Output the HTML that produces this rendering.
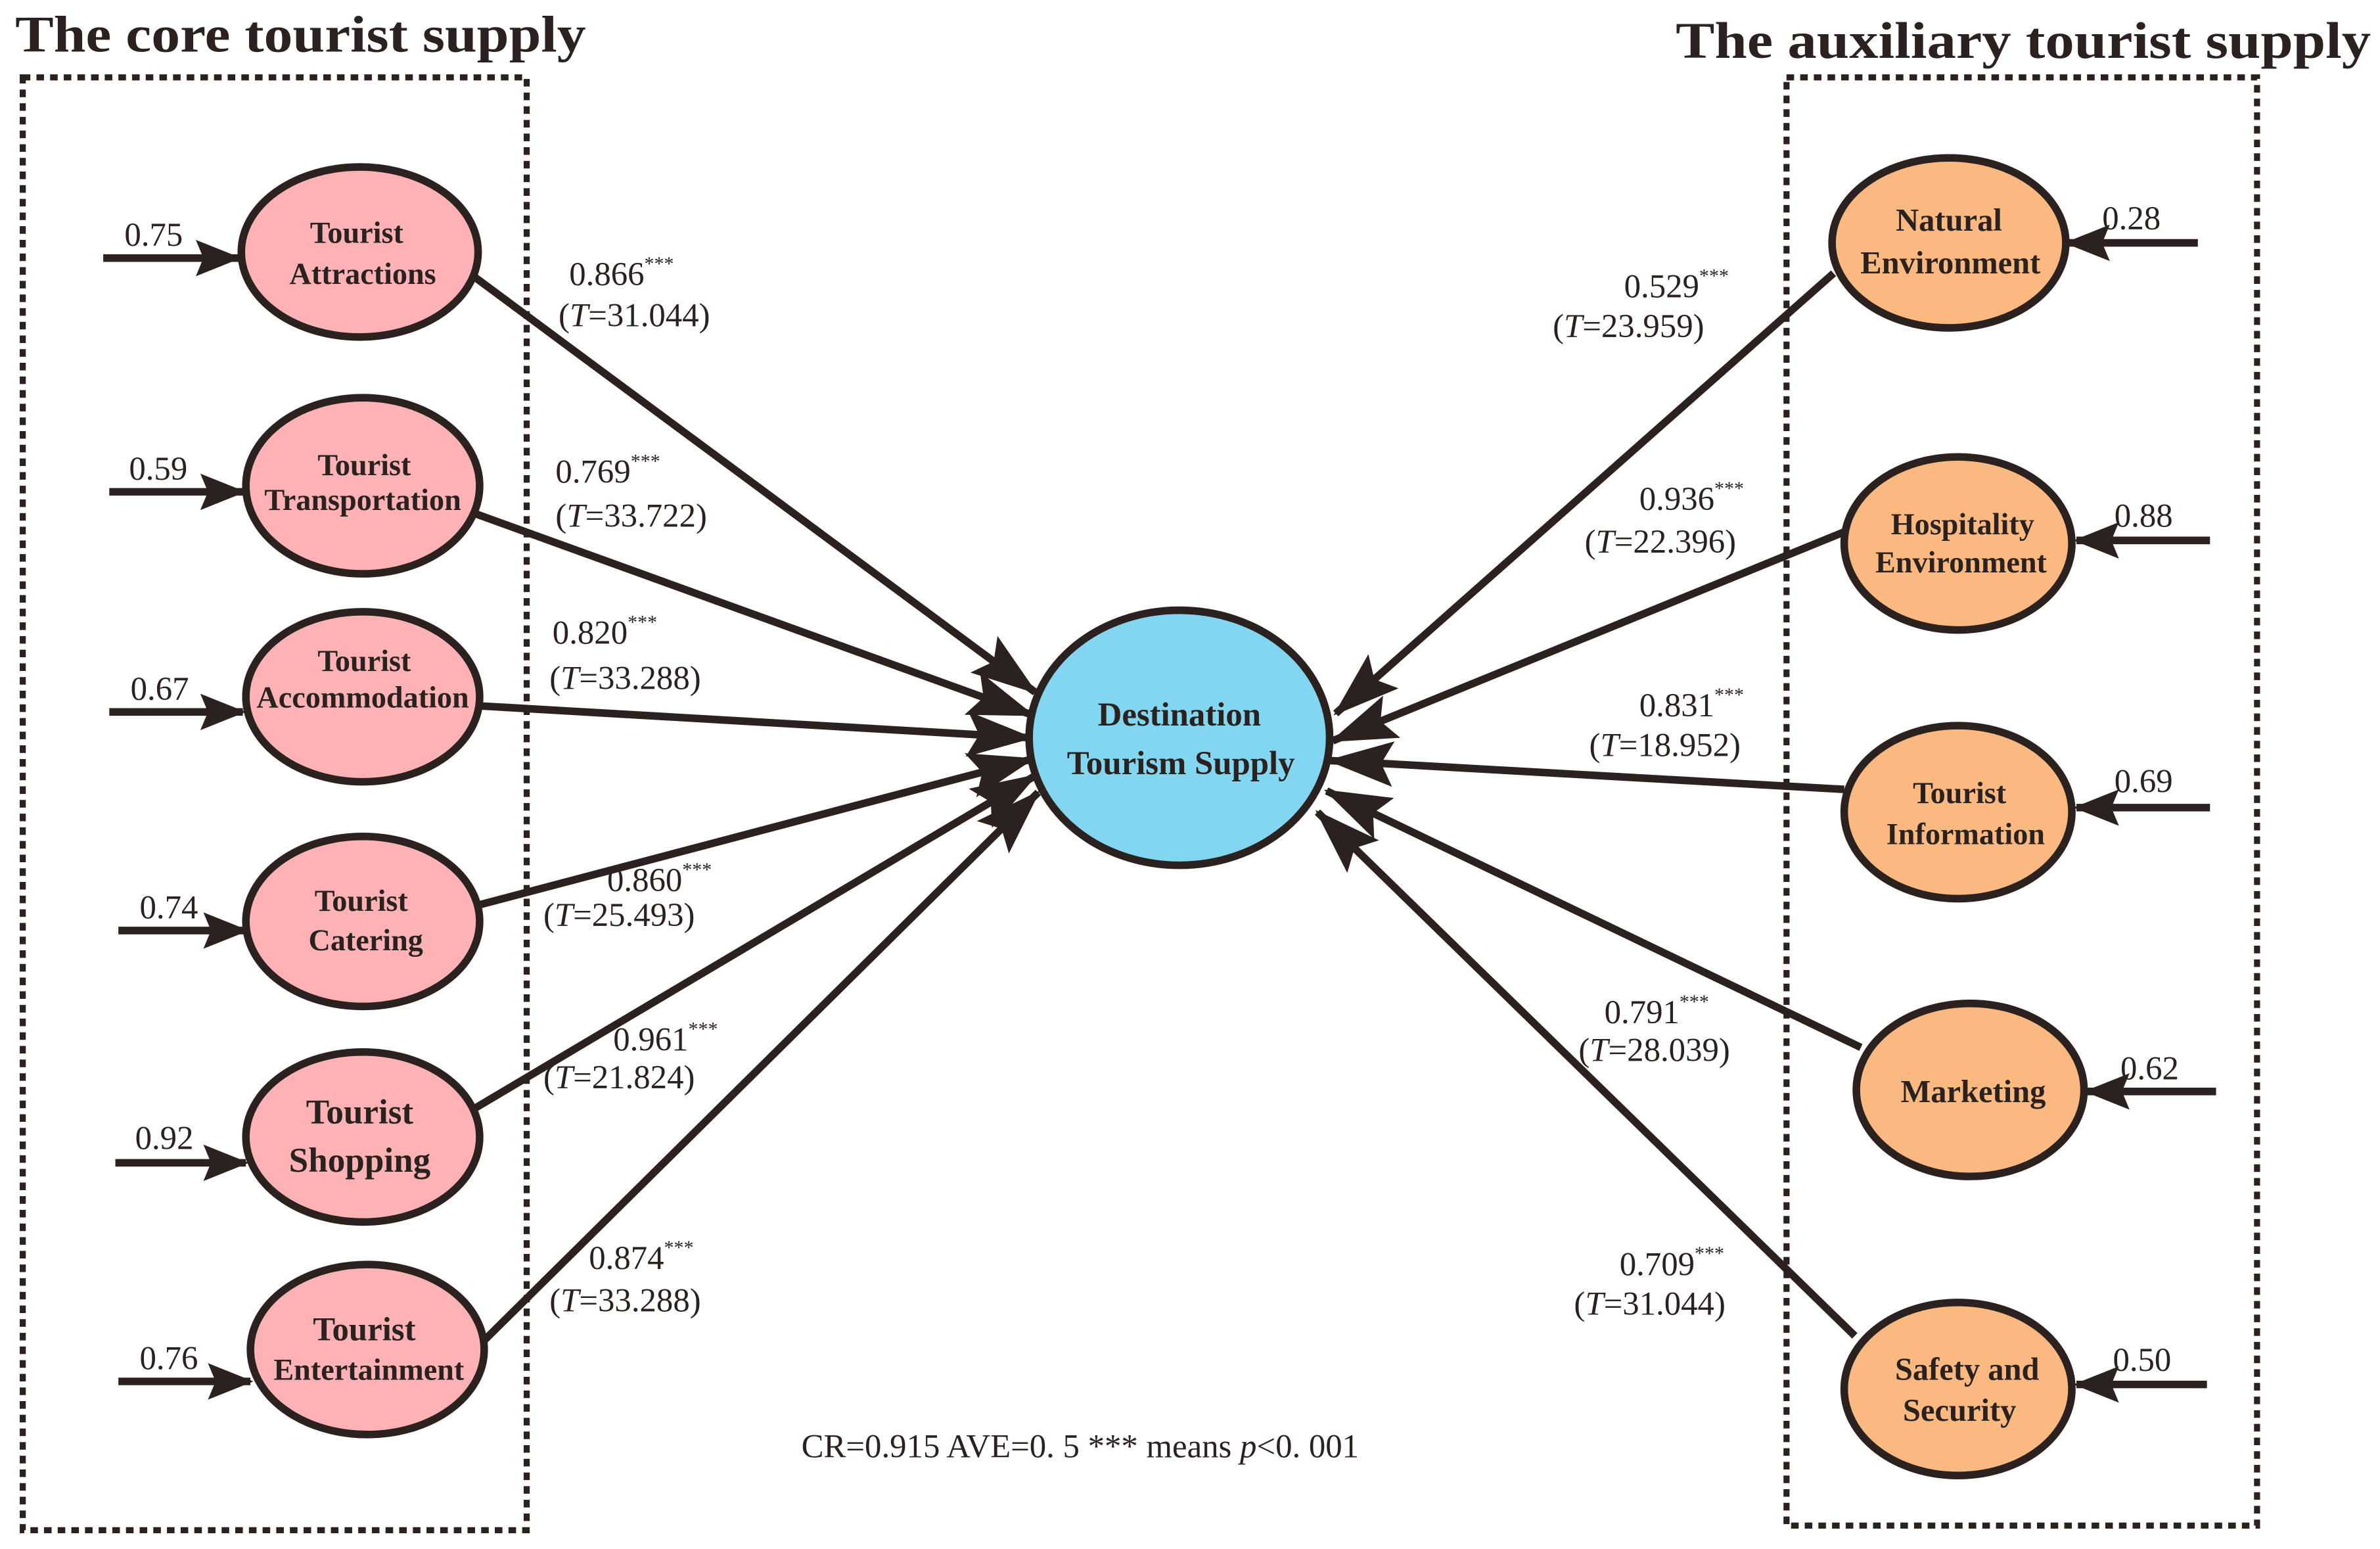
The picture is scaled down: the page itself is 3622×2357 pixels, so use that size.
<!DOCTYPE html>
<html><head><meta charset="utf-8"><style>
html,body{margin:0;padding:0;background:#fff;}
svg{display:block;}
text{font-family:"Liberation Serif",serif;fill:#2b2220;}
.h{font-size:34px;font-weight:bold;}
.n{font-size:20px;font-weight:bold;text-anchor:middle;}
.v{font-size:22px;}
.s{font-size:13px;}
</style></head><body>
<svg width="3622" height="2357" viewBox="0 0 1568 1020.4" preserveAspectRatio="none" xmlns="http://www.w3.org/2000/svg">
<defs>
<marker id="a" markerUnits="userSpaceOnUse" markerWidth="44" markerHeight="34" refX="42" refY="17" orient="auto">
<polygon points="0,2 44,17 0,32 8,17" fill="#2b2220"/>
</marker>
<marker id="b" markerUnits="userSpaceOnUse" markerWidth="30" markerHeight="26" refX="28" refY="13" orient="auto">
<polygon points="0,1 30,13 0,25 5,13" fill="#2b2220"/>
</marker>
</defs>
<rect width="1568" height="1020.4" fill="#fff"/>
<text class="h" x="10" y="34" textLength="376" lengthAdjust="spacingAndGlyphs">The core tourist supply</text>
<text class="h" x="1104" y="38" textLength="458" lengthAdjust="spacingAndGlyphs">The auxiliary tourist supply</text>
<rect x="15" y="51" width="332" height="957" fill="none" stroke="#2b2220" stroke-width="4" stroke-dasharray="5 4"/>
<rect x="1177" y="51" width="310" height="954" fill="none" stroke="#2b2220" stroke-width="4" stroke-dasharray="5 4"/>
<g stroke="#2b2220" stroke-width="5" fill="none">
<line x1="312" y1="182" x2="682" y2="456" marker-end="url(#a)"/>
<line x1="312" y1="338" x2="680" y2="471" marker-end="url(#a)"/>
<line x1="316" y1="465" x2="679" y2="486" marker-end="url(#a)"/>
<line x1="316" y1="596" x2="680" y2="500" marker-end="url(#a)"/>
<line x1="313" y1="730" x2="682" y2="511" marker-end="url(#a)"/>
<line x1="318" y1="884" x2="684" y2="522" marker-end="url(#a)"/>
<line x1="1208" y1="180" x2="880" y2="470" marker-end="url(#a)"/>
<line x1="1216" y1="350" x2="878" y2="488" marker-end="url(#a)"/>
<line x1="1215" y1="520" x2="876" y2="501" marker-end="url(#a)"/>
<line x1="1226" y1="690" x2="874" y2="521" marker-end="url(#a)"/>
<line x1="1222" y1="880" x2="868" y2="535" marker-end="url(#a)"/>
<line x1="68" y1="170" x2="157" y2="170" marker-end="url(#b)"/>
<line x1="72" y1="324" x2="160" y2="324" marker-end="url(#b)"/>
<line x1="72" y1="469" x2="160" y2="469" marker-end="url(#b)"/>
<line x1="78" y1="613" x2="162" y2="613" marker-end="url(#b)"/>
<line x1="76" y1="766" x2="162" y2="766" marker-end="url(#b)"/>
<line x1="78" y1="910" x2="165" y2="910" marker-end="url(#b)"/>
<line x1="1448" y1="160" x2="1362" y2="160" marker-end="url(#b)"/>
<line x1="1456" y1="356" x2="1368" y2="356" marker-end="url(#b)"/>
<line x1="1456" y1="532" x2="1368" y2="532" marker-end="url(#b)"/>
<line x1="1460" y1="719" x2="1375" y2="719" marker-end="url(#b)"/>
<line x1="1454" y1="912" x2="1368" y2="912" marker-end="url(#b)"/>
</g>
<g stroke="#2b2220" stroke-width="5">
<ellipse cx="237" cy="166" rx="78" ry="56" fill="#fdb3b5"/>
<ellipse cx="239" cy="320" rx="77" ry="58" fill="#fdb3b5"/>
<ellipse cx="239" cy="459" rx="77" ry="56" fill="#fdb3b5"/>
<ellipse cx="239" cy="607" rx="77" ry="56" fill="#fdb3b5"/>
<ellipse cx="239" cy="749" rx="77" ry="56" fill="#fdb3b5"/>
<ellipse cx="242" cy="889" rx="77" ry="56" fill="#fdb3b5"/>
<ellipse cx="777" cy="486" rx="99" ry="84" fill="#82d6f0"/>
<ellipse cx="1284" cy="160" rx="77" ry="56" fill="#fbb982"/>
<ellipse cx="1290" cy="358" rx="75" ry="57" fill="#fbb982"/>
<ellipse cx="1290" cy="535" rx="75" ry="57" fill="#fbb982"/>
<ellipse cx="1298" cy="718" rx="75" ry="57" fill="#fbb982"/>
<ellipse cx="1290" cy="915" rx="75" ry="57" fill="#fbb982"/>
</g>
<text class="n" x="235" y="160">Tourist</text><text class="n" x="239" y="187">Attractions</text>
<text class="n" x="240" y="313">Tourist</text><text class="n" x="239" y="336">Transportation</text>
<text class="n" x="240" y="442">Tourist</text><text class="n" x="239" y="466">Accommodation</text>
<text class="n" x="238" y="600">Tourist</text><text class="n" x="241" y="626">Catering</text>
<text class="n" x="237" y="740" style="font-size:23px">Tourist</text><text class="n" x="237" y="772" style="font-size:23px">Shopping</text>
<text class="n" x="240" y="883" style="font-size:22px">Tourist</text><text class="n" x="243" y="909">Entertainment</text>
<text class="n" x="777" y="478" style="font-size:22px">Destination</text><text class="n" x="778" y="510" style="font-size:22px">Tourism Supply</text>
<text class="n" x="1284" y="152" style="font-size:21px">Natural</text><text class="n" x="1285" y="180" style="font-size:21px">Environment</text>
<text class="n" x="1293" y="352">Hospitality</text><text class="n" x="1292" y="377">Environment</text>
<text class="n" x="1291" y="529">Tourist</text><text class="n" x="1295" y="556">Information</text>
<text class="n" x="1300" y="726" style="font-size:21px">Marketing</text>
<text class="n" x="1296" y="909" style="font-size:21px">Safety and</text><text class="n" x="1291" y="936" style="font-size:21px">Security</text>
<g class="v">
<text class="v" x="82" y="162">0.75</text>
<text class="v" x="85" y="316">0.59</text>
<text class="v" x="86" y="461">0.67</text>
<text class="v" x="92" y="605">0.74</text>
<text class="v" x="89" y="757">0.92</text>
<text class="v" x="92" y="902">0.76</text>
<text class="v" x="1385" y="151">0.28</text>
<text class="v" x="1393" y="347">0.88</text>
<text class="v" x="1393" y="522">0.69</text>
<text class="v" x="1397" y="711">0.62</text>
<text class="v" x="1392" y="903">0.50</text>
</g>
<text class="v" x="375" y="188">0.866<tspan class="s" dy="-10">***</tspan></text><text class="v" x="368" y="215">(<tspan font-style="italic">T</tspan>=31.044)</text>
<text class="v" x="366" y="318">0.769<tspan class="s" dy="-10">***</tspan></text><text class="v" x="366" y="347">(<tspan font-style="italic">T</tspan>=33.722)</text>
<text class="v" x="364" y="424">0.820<tspan class="s" dy="-10">***</tspan></text><text class="v" x="362" y="454">(<tspan font-style="italic">T</tspan>=33.288)</text>
<text class="v" x="400" y="587">0.860<tspan class="s" dy="-10">***</tspan></text><text class="v" x="358" y="610">(<tspan font-style="italic">T</tspan>=25.493)</text>
<text class="v" x="404" y="692">0.961<tspan class="s" dy="-10">***</tspan></text><text class="v" x="358" y="717">(<tspan font-style="italic">T</tspan>=21.824)</text>
<text class="v" x="388" y="836">0.874<tspan class="s" dy="-10">***</tspan></text><text class="v" x="362" y="864">(<tspan font-style="italic">T</tspan>=33.288)</text>
<text class="v" x="1070" y="196">0.529<tspan class="s" dy="-10">***</tspan></text><text class="v" x="1023" y="222">(<tspan font-style="italic">T</tspan>=23.959)</text>
<text class="v" x="1080" y="336">0.936<tspan class="s" dy="-10">***</tspan></text><text class="v" x="1044" y="364">(<tspan font-style="italic">T</tspan>=22.396)</text>
<text class="v" x="1080" y="472">0.831<tspan class="s" dy="-10">***</tspan></text><text class="v" x="1047" y="498">(<tspan font-style="italic">T</tspan>=18.952)</text>
<text class="v" x="1057" y="674">0.791<tspan class="s" dy="-10">***</tspan></text><text class="v" x="1040" y="699">(<tspan font-style="italic">T</tspan>=28.039)</text>
<text class="v" x="1067" y="840">0.709<tspan class="s" dy="-10">***</tspan></text><text class="v" x="1037" y="866">(<tspan font-style="italic">T</tspan>=31.044)</text>
<text class="v" x="528" y="960">CR=0.915 AVE=0. 5 *** means <tspan font-style="italic">p</tspan>&lt;0. 001</text>
</svg>
</body></html>
